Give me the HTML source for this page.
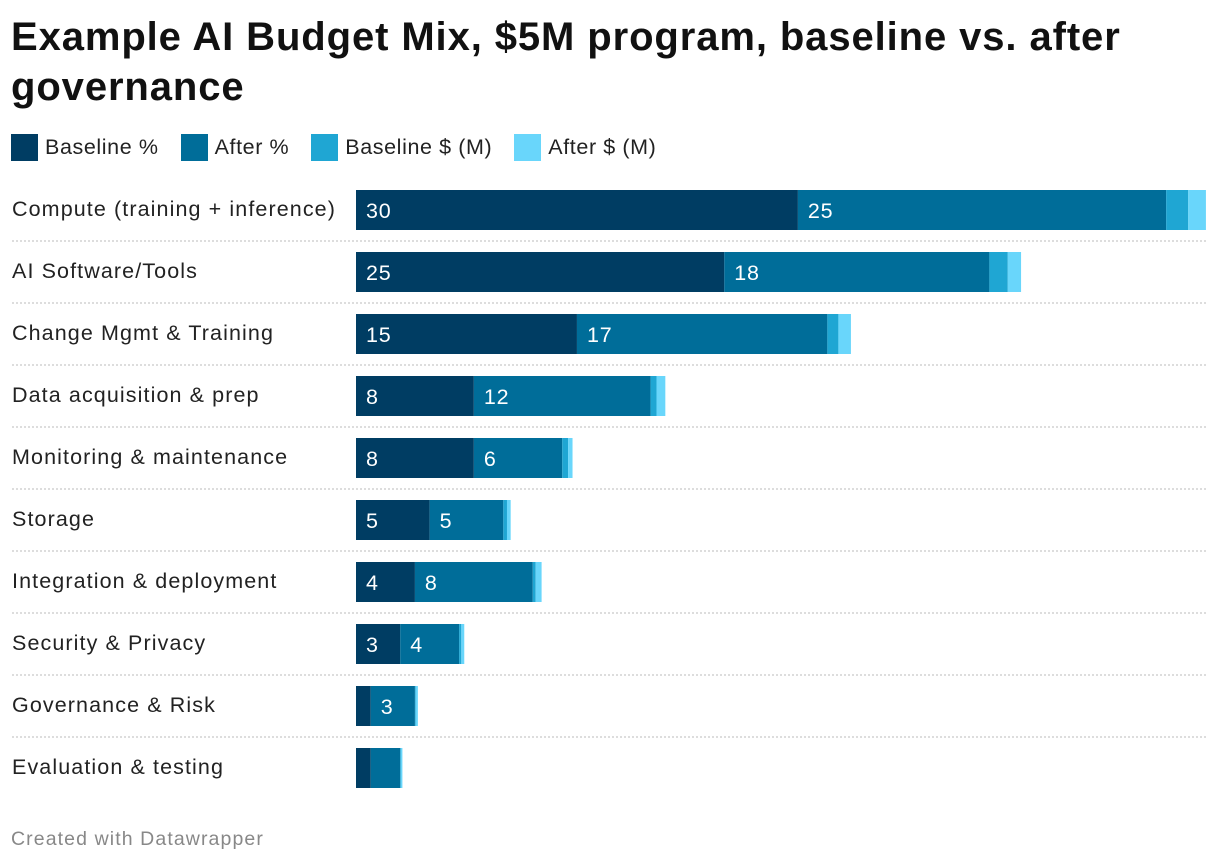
<!DOCTYPE html>
<html><head><meta charset="utf-8"><style>
body{margin:0;background:#fff;font-family:"Liberation Sans",sans-serif;width:1220px;height:864px;overflow:hidden;position:relative}
#title{position:absolute;left:11px;top:12px;width:1200px;font-size:40px;font-weight:bold;line-height:50px;color:#111;letter-spacing:0.9px}
#legend{position:absolute;left:11px;top:134px;display:flex;font-size:21.5px;color:#222;letter-spacing:0.6px}
.li{display:flex;align-items:center;margin-right:22px}
.sw{width:27px;height:27px;margin-right:7px}
#credit{position:absolute;left:11px;top:828px;font-size:19.5px;color:#888;letter-spacing:1.1px}
</style></head><body>
<div id="title">Example AI Budget Mix, $5M program, baseline vs. after governance</div>
<div id="legend">
<div class="li"><div class="sw" style="background:#003d63"></div>Baseline %</div>
<div class="li"><div class="sw" style="background:#006d99"></div>After %</div>
<div class="li"><div class="sw" style="background:#1fa6d3"></div>Baseline $ (M)</div>
<div class="li"><div class="sw" style="background:#69d6fb"></div>After $ (M)</div>
</div>
<svg id="chart" width="1220" height="864" style="position:absolute;left:0;top:0"></svg>
<div id="credit">Created with Datawrapper</div>
<script>
const categories=["Compute (training + inference)","AI Software/Tools","Change Mgmt & Training","Data acquisition & prep","Monitoring & maintenance","Storage","Integration & deployment","Security & Privacy","Governance & Risk","Evaluation & testing"];
const baselinePct=[30,25,15,8,8,5,4,3,1,1];
const afterPct=[25,18,17,12,6,5,8,4,3,2];
const baselineUsd=[1.5,1.25,0.75,0.4,0.4,0.25,0.2,0.15,0.05,0.05];
const afterUsd=[1.2,0.9,0.85,0.6,0.3,0.25,0.4,0.2,0.15,0.1];
const colors=["#003d63","#006d99","#1fa6d3","#69d6fb"];
const x0=356,pxPer=14.73,rowTop=190,rowStep=62,barH=40;
const xs=v=>v*pxPer;
const svg=document.getElementById('chart');
const NS="http://www.w3.org/2000/svg";
const series=[baselinePct,afterPct,baselineUsd,afterUsd];
const snames=['baseline-pct','after-pct','baseline-usd','after-usd'];
categories.forEach((c,i)=>{
  const y=rowTop+i*rowStep;
  const t=document.createElementNS(NS,'text');
  t.setAttribute('x',12);t.setAttribute('y',y+26);
  t.setAttribute('font-size','21.5');t.setAttribute('fill','#222');
  t.setAttribute('letter-spacing','1.1');
  t.textContent=c;
  
  
  svg.appendChild(t);
  if(i<categories.length-1){
    const l=document.createElementNS(NS,'line');
    l.setAttribute('x1',12);l.setAttribute('x2',1208);
    l.setAttribute('y1',y+51);l.setAttribute('y2',y+51);
    l.setAttribute('stroke','#bbb');l.setAttribute('stroke-dasharray','2,2');
    
    
    svg.appendChild(l);
  }
  let cx=x0;
  series.forEach((s,k)=>{
    const w=xs(s[i]);
    const r=document.createElementNS(NS,'rect');
    r.setAttribute('x',cx);r.setAttribute('y',y);
    r.setAttribute('width',w);r.setAttribute('height',barH);
    r.setAttribute('fill',colors[k]);
    
    
    svg.appendChild(r);
    if(k<2&&s[i]>=3){
      const tx=document.createElementNS(NS,'text');
      tx.setAttribute('x',cx+10);tx.setAttribute('y',y+28);
      tx.setAttribute('font-size','21.5');tx.setAttribute('fill','#fff');
      tx.setAttribute('letter-spacing','0.8');
      tx.textContent=s[i];
      
      
      svg.appendChild(tx);
    }
    cx+=w;
  });
});
</script>
</body></html>
